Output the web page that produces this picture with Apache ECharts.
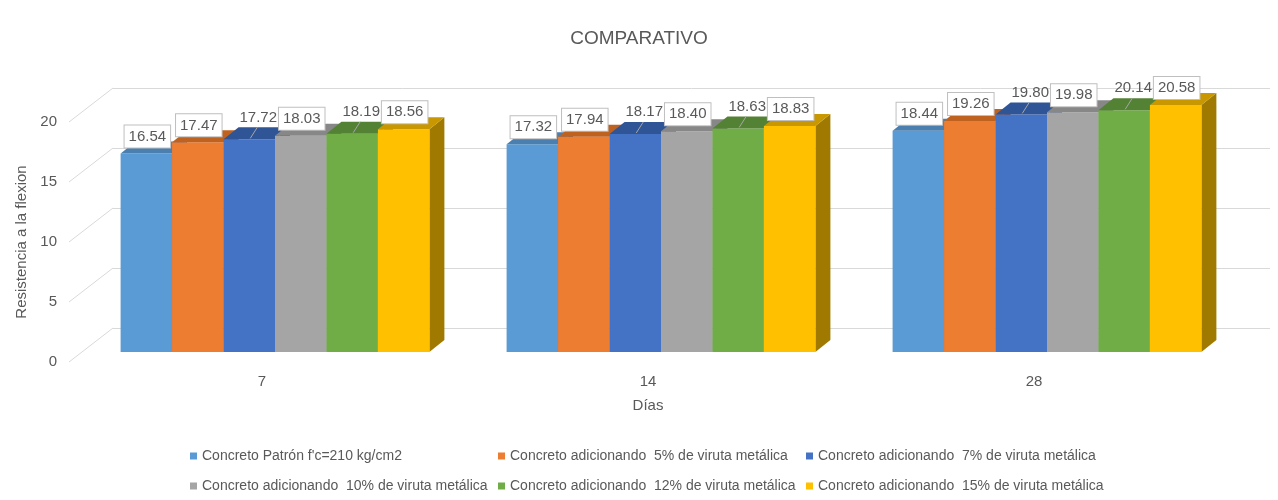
<!DOCTYPE html>
<html>
<head>
<meta charset="utf-8">
<script src="https://cdn.jsdelivr.net/npm/echarts@6/dist/echarts.min.js"></script>
<style>
  html, body { margin: 0; padding: 0; background: #fff; }
  #chart { width: 1278px; height: 500px; }
</style>
</head>
<body>
<div id="chart"></div>
<script>
// datos
const categories = ['7', '14', '28']
const seriesNames = [
  "Concreto Patrón f'c=210 kg/cm2",
  'Concreto adicionando  5% de viruta metálica',
  'Concreto adicionando  7% de viruta metálica',
  'Concreto adicionando  10% de viruta metálica',
  'Concreto adicionando  12% de viruta metálica',
  'Concreto adicionando  15% de viruta metálica'
]
const patron = [16.54, 17.32, 18.44]
const viruta5 = [17.47, 17.94, 19.26]
const viruta7 = [17.72, 18.17, 19.80]
const viruta10 = [18.03, 18.40, 19.98]
const viruta12 = [18.19, 18.63, 20.14]
const viruta15 = [18.56, 18.83, 20.58]
const yTicks = [0, 5, 10, 15, 20]

const allValues = [patron, viruta5, viruta7, viruta10, viruta12, viruta15]

// estilos
const frontColors = ['#5B9BD5', '#ED7D31', '#4472C4', '#A5A5A5', '#70AD47', '#FFC000']
const topColors = ['#4A7FB0', '#C0621F', '#2F5597', '#878787', '#548235', '#C99700']
const sideColors = ['#3F6D98', '#A65419', '#2A4A85', '#7A7A7A', '#4A7430', '#A07A00']
const boxed = [true, true, false, true, false, true]
const textColor = '#595959'
const font = 'Liberation Sans'
const DEPTH_X = 15
const DEPTH_Y = -12
const WALL_DX = 44
const WALL_DY = -34

const chart = echarts.init(document.getElementById('chart'))

function barRender(si) {
  return function (params, api) {
    const cat = api.value(0)
    const val = api.value(1)
    const bandW = api.size([1, 0])[0]
    const barW = bandW * 0.8 / 6
    const top = api.coord([cat, val])
    const base = api.coord([cat, 0])
    const x0 = top[0] - bandW * 0.4 + si * barW
    const x1 = x0 + barW
    const yt = top[1]
    const yb = base[1]
    const children = [
      {
        type: 'polygon',
        shape: { points: [[x1, yt], [x1 + DEPTH_X, yt + DEPTH_Y], [x1 + DEPTH_X, yb + DEPTH_Y], [x1, yb]] },
        style: { fill: sideColors[si] }
      },
      {
        type: 'rect',
        shape: { x: x0, y: yt, width: barW, height: yb - yt },
        style: { fill: frontColors[si] }
      },
      {
        type: 'polygon',
        shape: { points: [[x0, yt], [x1, yt], [x1 + DEPTH_X, yt + DEPTH_Y], [x0 + DEPTH_X, yt + DEPTH_Y]] },
        style: { fill: topColors[si] }
      }
    ]
    const cx = (x0 + x1) / 2
    const txt = val.toFixed(2)
    if (boxed[si]) {
      children.push({
        type: 'text',
        z2: 100 + si,
        x: cx + 1,
        y: yt - 17,
        style: {
          text: txt,
          fill: textColor,
          font: '15px ' + font,
          align: 'center',
          verticalAlign: 'middle',
          backgroundColor: '#fff',
          borderColor: '#BFBFBF',
          borderWidth: 1,
          padding: [4, 4, 3, 4]
        }
      })
    } else {
      children.push({
        type: 'line',
        z2: 100 + si,
        shape: { x1: cx + 1, y1: yt - 1, x2: cx + 8, y2: yt - 12 },
        style: { stroke: '#A6A6A6', lineWidth: 1 }
      })
      children.push({
        type: 'text',
        z2: 100 + si,
        x: cx + 9,
        y: yt - 22,
        style: {
          text: txt,
          fill: textColor,
          font: '15px ' + font,
          align: 'center',
          verticalAlign: 'middle'
        }
      })
    }
    return { type: 'group', children: children }
  }
}

const barSeries = allValues.map((vals, si) => ({
  name: seriesNames[si],
  type: 'custom',
  xAxisIndex: 1,
  yAxisIndex: 1,
  itemStyle: { color: frontColors[si] },
  renderItem: barRender(si),
  data: vals.map((v, i) => [i, v])
}))

const wallSeries = {
  type: 'custom',
  xAxisIndex: 0,
  yAxisIndex: 0,
  silent: true,
  renderItem: function (params, api) {
    const p = api.coord([0, api.value(1)])
    const bandW = api.size([1, 0])[0]
    const x0 = p[0] - bandW / 2
    return {
      type: 'line',
      shape: { x1: x0, y1: p[1], x2: x0 + WALL_DX, y2: p[1] + WALL_DY },
      style: { stroke: '#D9D9D9', lineWidth: 1 }
    }
  },
  data: yTicks.map(v => [0, v])
}

const hiddenAxis = {
  show: true,
  axisLine: { show: false },
  axisTick: { show: false },
  axisLabel: { show: false }
}

chart.setOption({
  animation: false,
  textStyle: { fontFamily: font },
  title: {
    text: 'COMPARATIVO',
    left: 'center',
    top: 24,
    textStyle: { fontSize: 19, fontWeight: 'normal', color: textColor, fontFamily: font }
  },
  legend: {
    left: 185,
    top: 439,
    width: 940,
    itemWidth: 7,
    itemHeight: 7,
    itemGap: 6,
    icon: 'rect',
    data: seriesNames.map((n, i) => ({ name: n, itemStyle: { color: frontColors[i] } })),
    textStyle: {
      fontFamily: font,
      fontSize: 14,
      color: textColor,
      width: 290,
      lineHeight: 24,
      overflow: 'truncate'
    }
  },
  grid: [
    { left: 69, top: 122, width: 1158, height: 240 },
    { left: 82, top: 112, width: 1158, height: 240 },
    { left: 113, top: 88, right: 8, height: 240 }
  ],
  xAxis: [
    {
      type: 'category',
      gridIndex: 0,
      data: categories,
      axisLine: { show: false },
      axisTick: { show: false },
      axisLabel: { margin: 12, fontSize: 15, color: textColor },
      name: 'Días',
      nameLocation: 'middle',
      nameGap: 36,
      nameTextStyle: { fontSize: 15, color: textColor }
    },
    Object.assign({ type: 'category', gridIndex: 1, data: categories }, hiddenAxis),
    Object.assign({ type: 'category', gridIndex: 2, data: categories }, hiddenAxis)
  ],
  yAxis: [
    {
      type: 'value',
      gridIndex: 0,
      min: 0,
      max: 20,
      interval: 5,
      axisLine: { show: false },
      axisTick: { show: false },
      splitLine: { show: false },
      axisLabel: { margin: 12, fontSize: 15, color: textColor },
      name: 'Resistencia a la flexion',
      nameLocation: 'middle',
      nameGap: 31,
      nameTextStyle: { fontSize: 15, color: textColor }
    },
    Object.assign({ type: 'value', gridIndex: 1, min: 0, max: 20, interval: 5, splitLine: { show: false } }, hiddenAxis),
    Object.assign({
      type: 'value',
      gridIndex: 2,
      min: 0,
      max: 20,
      interval: 5,
      splitLine: { show: true, lineStyle: { color: '#D9D9D9', width: 1 } }
    }, hiddenAxis)
  ],
  series: [wallSeries].concat(barSeries)
})
</script>
</body>
</html>
